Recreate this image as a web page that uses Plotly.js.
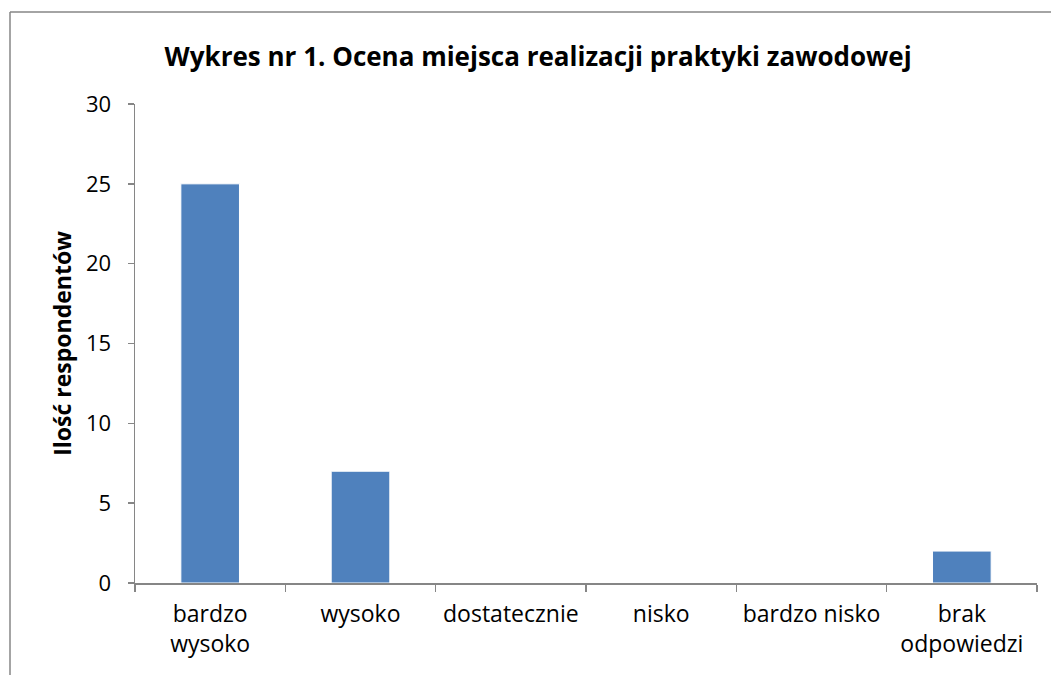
<!DOCTYPE html>
<html>
<head>
<meta charset="utf-8">
<script src="https://cdn.plot.ly/plotly-3.0.1.min.js"></script>
<style>
html,body{margin:0;padding:0;background:#fff;}
#chart{width:1051px;height:675px;}
</style>
</head>
<body>
<div id="chart"></div>
<script>
const categories = ["bardzo<br>wysoko", "wysoko", "dostatecznie", "nisko", "bardzo nisko", "brak<br>odpowiedzi"];
const values = [25, 7, 0, 0, 0, 2];
const yTicks = [0, 5, 10, 15, 20, 25, 30];

const FONT = "'Open Sans', Calibri, Carlito, Lato, sans-serif";
const GRAY = "#868686";

const trace = {
  type: "bar",
  x: categories,
  y: values,
  marker: { color: "#4F81BD", line: { color: "#ffffff", width: 1 } },
  hoverinfo: "x+y"
};

const layout = {
  width: 1051,
  height: 675,
  margin: { l: 135, r: 14, t: 104, b: 92 },
  paper_bgcolor: "#ffffff",
  plot_bgcolor: "#ffffff",
  bargap: 0.61,
  showlegend: false,
  font: { family: FONT, color: "#000000", size: 22 },
  title: {
    text: "<b>Wykres nr 1. Ocena miejsca realizacji praktyki zawodowej</b>",
    font: { family: FONT, size: 26, color: "#000000" },
    x: 0.512, xanchor: "center",
    y: 1 - 57 / 675, yanchor: "middle"
  },
  xaxis: {
    type: "category",
    showline: true, linecolor: GRAY, linewidth: 1.5,
    ticks: "outside", tickson: "boundaries", ticklen: 7, tickcolor: GRAY, tickwidth: 1.5,
    ticklabelstandoff: 10,
    tickfont: { family: FONT, size: 23, color: "#000000" },
    showgrid: false, zeroline: false,
    fixedrange: true
  },
  yaxis: {
    range: [0, 30],
    tickvals: yTicks,
    ticktext: yTicks.map(String),
    showline: true, linecolor: GRAY, linewidth: 1.5,
    ticks: "outside", ticklen: 6, tickcolor: GRAY, tickwidth: 1.5,
    ticklabelstandoff: 12,
    tickfont: { family: FONT, size: 22, color: "#000000" },
    showgrid: false, zeroline: false,
    title: {
      text: "<b>Ilość respondentów</b>",
      font: { family: FONT, size: 23, color: "#000000" },
      standoff: 8
    },
    fixedrange: true
  },
  shapes: [
    { type: "line", xref: "paper", yref: "paper",
      x0: (10 - 135) / 902, x1: (1060 - 135) / 902,
      y0: (583 - 12) / 479, y1: (583 - 12) / 479,
      line: { color: GRAY, width: 1.5 } },
    { type: "line", xref: "paper", yref: "paper",
      x0: (10 - 135) / 902, x1: (10 - 135) / 902,
      y0: (583 - 12) / 479, y1: (583 - 690) / 479,
      line: { color: GRAY, width: 1.5 } }
  ]
};

Plotly.newPlot("chart", [trace], layout, { displayModeBar: false, staticPlot: true });
</script>
</body>
</html>
